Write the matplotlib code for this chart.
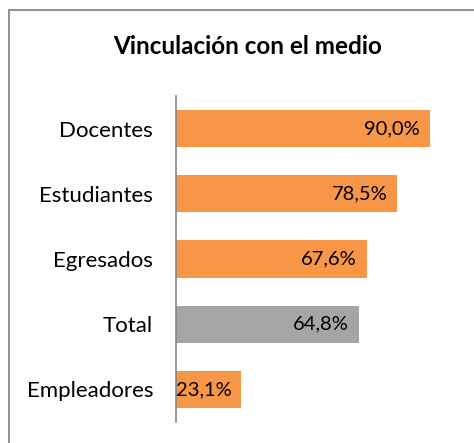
import matplotlib
matplotlib.use("Agg")
from matplotlib import pyplot as plt
from matplotlib.patches import Rectangle

# Categories top to bottom, with their shares in percent
categorias = ["Docentes", "Estudiantes", "Egresados", "Total", "Empleadores"]
valores = [90.0, 78.5, 67.6, 64.8, 23.1]
colores = ["#F79646", "#F79646", "#F79646", "#A5A5A5", "#F79646"]

plt.rcParams['font.family'] = ['Lato', 'DejaVu Sans']

fig = plt.figure(figsize=(4.74, 4.43), dpi=100)
ax = fig.add_axes([176 / 474, 1 - 422 / 443, 282 / 474, 326 / 443])

posiciones = list(range(len(categorias)))
ax.barh(posiciones, valores, height=0.57, color=colores, left=0)
ax.set_xlim(0, 100)
ax.set_ylim(len(categorias) - 0.5, -0.5)

ax.set_yticks(posiciones)
ax.set_yticklabels(categorias, fontsize=16)
ax.tick_params(axis='y', length=0, pad=16.5)
ax.set_xticks([])
for lado in ["top", "right", "bottom"]:
    ax.spines[lado].set_visible(False)
ax.spines["left"].set_color("#868686")
ax.spines["left"].set_linewidth(1.2)

# Value labels at the inner end of each bar
for y, v in zip(posiciones, valores):
    ax.annotate(f"{v:.1f}%".replace(".", ","), xy=(v, y), xytext=(-7, 0),
                textcoords="offset points", ha="right", va="center",
                fontsize=14.5, color="black")

fig.text(248 / 474, 1 - 47 / 443, "Vinculación con el medio", ha="center",
         va="center", fontsize=17.5, fontweight="bold")

# Chart area frame
fig.patches.append(Rectangle((9 / 474, -0.1), 1.2, 1 - 10 / 443 + 0.1,
                             transform=fig.transFigure, fill=False,
                             edgecolor="#888888", linewidth=1.3))

fig.savefig("out.png", dpi=100, facecolor="white")
